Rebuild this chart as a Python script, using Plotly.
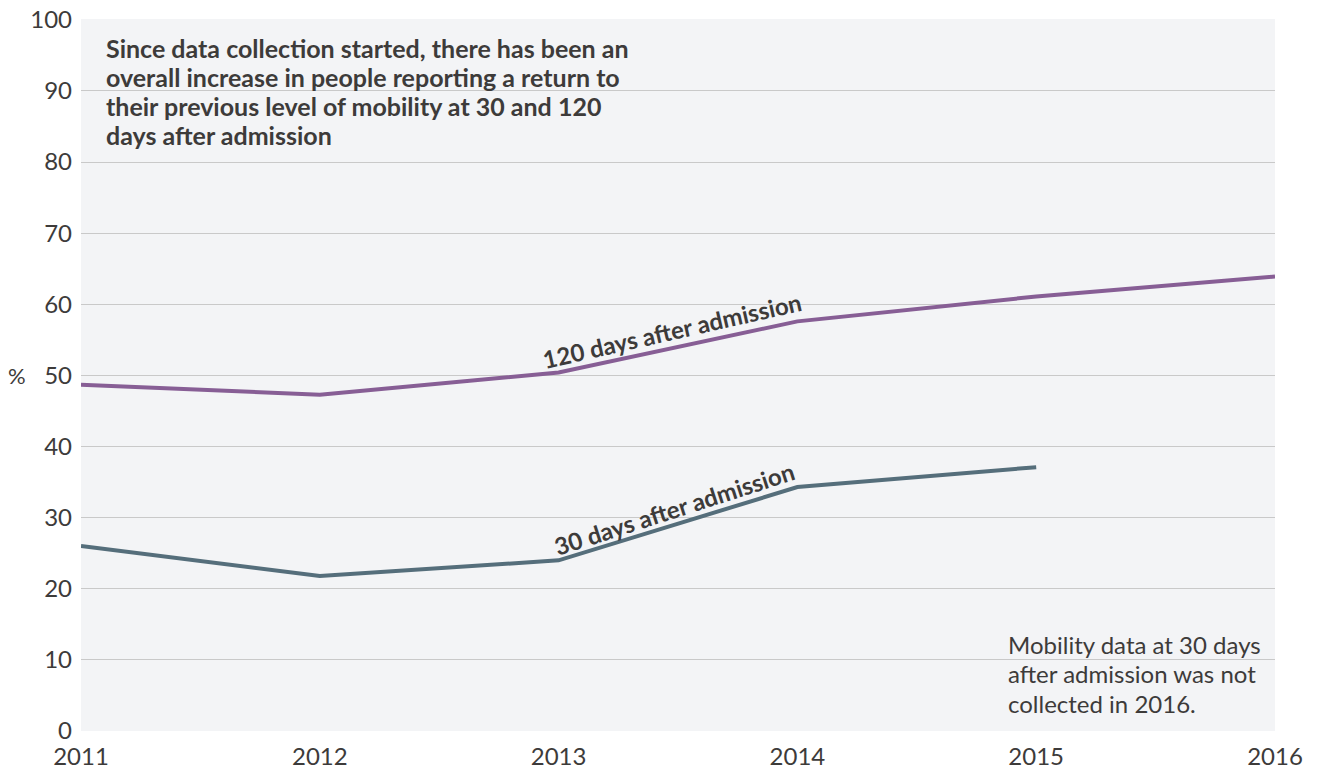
import plotly.graph_objects as go

years = [2011, 2012, 2013, 2014, 2015, 2016]
days120 = [48.7, 47.3, 50.4, 57.6, 61.1, 63.9]
years30 = [2011, 2012, 2013, 2014, 2015]
days30 = [26.0, 21.8, 24.0, 34.3, 37.1]
y_ticks = [0, 10, 20, 30, 40, 50, 60, 70, 80, 90, 100]

title_lines = ["Since data collection started, there has been an",
               "overall increase in people reporting a return to",
               "their previous level of mobility at 30 and 120",
               "days after admission"]
note_lines = ["Mobility data at 30 days", "after admission was not", "collected in 2016."]

TXT = "#3d3b3a"
FONT = "Lato, 'Open Sans', sans-serif"

fig = go.Figure()
fig.add_trace(go.Scatter(x=years, y=days120, mode="lines",
                         line=dict(color="#875e95", width=4), hoverinfo="skip"))
fig.add_trace(go.Scatter(x=years30, y=days30, mode="lines",
                         line=dict(color="#556e7b", width=4), hoverinfo="skip"))

fig.update_layout(
    width=1309, height=764,
    margin=dict(l=73, r=42, t=11, b=41, autoexpand=False),
    paper_bgcolor="white", plot_bgcolor="#f3f4f6",
    showlegend=False,
    font=dict(family=FONT, color=TXT, size=24),
    xaxis=dict(range=[2011, 2016], tickvals=years, ticktext=[str(y) for y in years],
               showgrid=False, zeroline=False, showline=False, ticks="",
               tickfont=dict(size=24, color=TXT), ticklabelstandoff=9),
    yaxis=dict(range=[0, 100.12], tickvals=y_ticks, showgrid=True, gridcolor="#c9c9c9",
               gridwidth=1, zeroline=False, showline=False, ticks="",
               tickfont=dict(size=24, color=TXT), ticklabelstandoff=8,
               ticklabeloverflow="allow"),
)

fig.add_annotation(xref="paper", yref="paper", x=-0.0536, y=0.5, text="%",
                   showarrow=False, xanchor="center", yanchor="middle",
                   font=dict(size=22, color=TXT))

title_y = [0.9593, 0.9185, 0.8778, 0.8371]
for line, yy in zip(title_lines, title_y):
    fig.add_annotation(xref="paper", yref="paper", x=0.019, y=yy,
                       text="<b>" + line + "</b>",
                       showarrow=False, xanchor="left", yanchor="middle", align="left",
                       font=dict(size=25, color=TXT))

note_y = [0.1208, 0.0801, 0.0393]
for line, yy in zip(note_lines, note_y):
    fig.add_annotation(xref="paper", yref="paper", x=0.7745, y=yy, text=line,
                       showarrow=False, xanchor="left", yanchor="middle", align="left",
                       font=dict(size=24, color=TXT))

fig.add_annotation(xref="paper", yref="paper", x=0.495, y=0.562,
                   text="<b>120 days after admission</b>", textangle=-12.8,
                   showarrow=False, xanchor="center", yanchor="middle",
                   font=dict(size=24, color=TXT))
fig.add_annotation(xref="paper", yref="paper", x=0.497, y=0.313,
                   text="<b>30 days after admission</b>", textangle=-17.9,
                   showarrow=False, xanchor="center", yanchor="middle",
                   font=dict(size=24, color=TXT))

fig.write_html("out.html")
